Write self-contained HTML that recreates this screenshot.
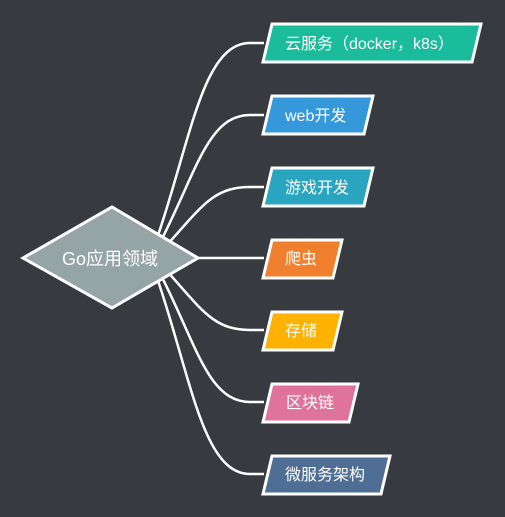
<!DOCTYPE html>
<html><head><meta charset="utf-8"><style>
html,body{margin:0;padding:0;background:#373b40;}
svg{display:block}
text{font-family:"Liberation Sans","Noto Sans CJK SC",sans-serif;fill:#fff}
</style></head><body>
<svg width="505" height="517" viewBox="0 0 505 517" xmlns="http://www.w3.org/2000/svg">
<rect width="505" height="517" fill="#373b40"/>
<g fill="none" stroke="#fff" stroke-width="2.5">
<path d="M150 258 C190 150 200 43 250 43 L264 43"/>
<path d="M152 258 C195 180 205 115 250 115 L264 115"/>
<path d="M155 258 C200 210 210 187 250 187 L264 187"/>
<path d="M160 258 L264 258"/>
<path d="M155 258 C200 306 210 330 250 330 L264 330"/>
<path d="M152 258 C195 336 205 402 250 402 L264 402"/>
<path d="M150 258 C190 366 200 474 250 474 L264 474"/>
</g>
<polygon points="23,258 112,207 198,258 112,308" fill="#95a5a6" stroke="#fff" stroke-width="3"/>
<text x="110" y="265" font-size="18" text-anchor="middle">Go应用领域</text>
<g stroke="#fff" stroke-width="3">
<polygon points="272,24 481,24 472,62 263,62" fill="#1abc9c"/>
<polygon points="272,96 373,96 364,134 263,134" fill="#3498db"/>
<polygon points="272,168 373,168 364,206 263,206" fill="#2aa5c0"/>
<polygon points="272,240 342,240 333,278 263,278" fill="#f07f2e"/>
<polygon points="272,312 342,312 333,350 263,350" fill="#fdb100"/>
<polygon points="272,384 358,384 349,422 263,422" fill="#e0739a"/>
<polygon points="272,456 390,456 381,494 263,494" fill="#4e6e95"/>
</g>
<g font-size="16">
<text x="285" y="49">云服务（docker，k8s）</text>
<text x="285" y="121">web开发</text>
<text x="285" y="193">游戏开发</text>
<text x="285" y="264">爬虫</text>
<text x="285" y="336">存储</text>
<text x="286" y="408">区块链</text>
<text x="285" y="480">微服务架构</text>
</g>
</svg>
</body></html>
